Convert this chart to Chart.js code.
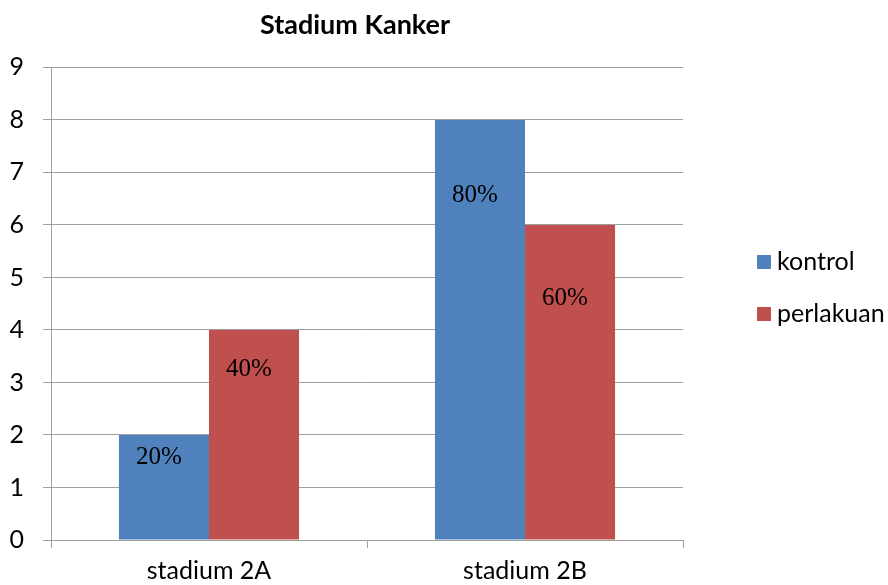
<!DOCTYPE html>
<html>
<head>
<meta charset="utf-8">
<script src="https://cdn.jsdelivr.net/npm/chart.js@4.4.1/dist/chart.umd.min.js"></script>
<style>
  html, body { margin: 0; padding: 0; background: #fff; }
  #wrap { width: 888px; height: 585px; }
</style>
</head>
<body>
<div id="wrap"><canvas id="myChart"></canvas></div>
<script>
const ctx = document.querySelector("#myChart").getContext("2d");

const labels = ["stadium 2A", "stadium 2B"];
const kontrol = [2, 8];
const perlakuan = [4, 6];
const yTicks = [0, 1, 2, 3, 4, 5, 6, 7, 8, 9];

const gridColor = "#a0a0a0";
const fontFamily = "Lato, 'Open Sans', sans-serif";

// percentage text inside each bar, share of its series total
const percentLabels = {
  id: "percentLabels",
  afterDatasetsDraw(chart, args, opts) {
    const c = chart.ctx;
    c.save();
    c.font = "25px 'Liberation Serif', 'Times New Roman', serif";
    c.fillStyle = "#000";
    c.textAlign = "center";
    c.textBaseline = "middle";
    chart.data.datasets.forEach((ds, i) => {
      const total = ds.data.reduce((a, b) => a + b, 0);
      chart.getDatasetMeta(i).data.forEach((bar, j) => {
        const pct = Math.round((ds.data[j] / total) * 100) + "%";
        c.fillText(pct, bar.x - 5, bar.y + opts.drop[i][j]);
      });
    });
    c.restore();
  },
};

// legend on the right, one row per series
const sideLegend = {
  id: "sideLegend",
  afterDraw(chart, args, opts) {
    const c = chart.ctx;
    c.save();
    c.font = "25px " + fontFamily;
    c.textBaseline = "middle";
    chart.data.datasets.forEach((ds, i) => {
      const y = opts.y + i * opts.gap;
      c.fillStyle = ds.backgroundColor;
      c.fillRect(opts.x, y - 7, 14, 14);
      c.fillStyle = "#000";
      c.fillText(ds.label, opts.x + 20, y);
    });
    c.restore();
  },
};

const data = {
  labels,
  datasets: [
    {
      label: "kontrol",
      data: kontrol,
      backgroundColor: "#4f81bd",
    },
    {
      label: "perlakuan",
      data: perlakuan,
      backgroundColor: "#c0504d",
    },
  ],
};

const config = {
  type: "bar",
  data: data,
  plugins: [percentLabels, sideLegend],
  options: {
    responsive: true,
    maintainAspectRatio: false,
    animation: false,
    categoryPercentage: 0.57,
    barPercentage: 1.0,
    layout: {
      padding: { left: 7, right: 185, top: 0, bottom: 0 },
    },
    plugins: {
      legend: { display: false },
      tooltip: { enabled: false },
      title: {
        display: true,
        text: "Stadium Kanker",
        color: "#000",
        font: { family: fontFamily, size: 27, weight: "bold" },
        padding: { top: 9, bottom: 26 },
      },
      percentLabels: { drop: [[22, 76], [39, 74]] },
      sideLegend: { x: 757, y: 262, gap: 52 },
    },
    scales: {
      x: {
        afterFit: (axis) => {
          axis.height -= 9;
        },
        grid: {
          drawOnChartArea: false,
          drawTicks: true,
          tickLength: 8,
          color: gridColor,
          offset: true,
        },
        border: { color: gridColor },
        ticks: {
          color: "#000",
          font: { family: fontFamily, size: 25 },
          padding: 8,
        },
      },
      y: {
        min: 0,
        max: 9,
        afterBuildTicks: (axis) => {
          axis.ticks = yTicks.map((v) => ({ value: v }));
        },
        afterFit: (axis) => {
          axis.width = 44;
        },
        grid: { color: gridColor, tickLength: 8 },
        border: { color: gridColor },
        ticks: {
          color: "#000",
          font: { family: fontFamily, size: 25 },
          padding: 19,
        },
      },
      // empty spacer on the right edge of the plot
      gap: {
        position: "right",
        grid: { display: false },
        border: { display: false },
        ticks: { display: false },
        afterFit: (axis) => {
          axis.width = 20;
        },
      },
    },
  },
};

const myChart = new Chart(ctx, config);
</script>
</body>
</html>
